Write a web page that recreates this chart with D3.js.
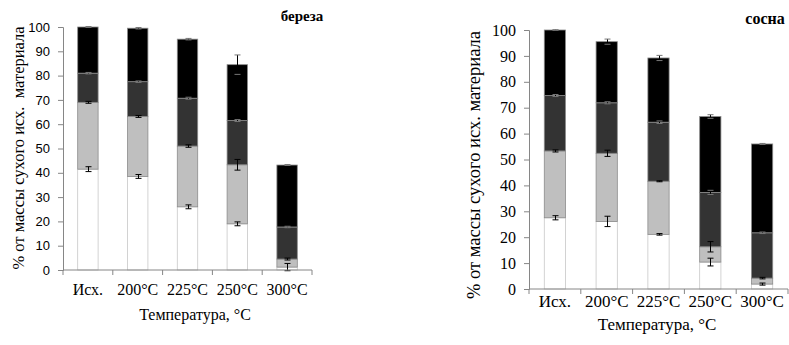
<!DOCTYPE html>
<html>
<head>
<meta charset="utf-8">
<script src="https://cdn.jsdelivr.net/npm/d3@7"></script>
<style>
  body { margin: 0; background: #fff; }
  svg { display: block; }
</style>
</head>
<body>
<div id="chart"></div>
<script>
const categories = ["Исх.", "200°C", "225°C", "250°C", "300°C"];
const seriesColors = ["#ffffff", "#bfbfbf", "#333333", "#000000"];
const serif = "'Liberation Serif', 'Times New Roman', Times, serif";

// береза: segment heights, bottom to top
const birchWhite = [41.5, 38.5, 26, 19, 1.2];
const birchLight = [27.5, 24.7, 25, 24.3, 3.3];
const birchDark = [12, 14.3, 19.7, 18.2, 13.2];
const birchBlack = [19, 22, 24.3, 23, 25.5];
const birchErr = [
  [1, 0.8, 0.8, 0.8, 1.5],
  [0.4, 0.4, 0.5, 2.2, 0.4],
  [0.3, 0.3, 0.4, 0.4, 0.3],
  [0.2, 0.3, 0.3, 4, 0.2]
];

// сосна
const pineWhite = [27.5, 26.1, 21.1, 10.4, 1.9];
const pineLight = [25.8, 26.3, 20.5, 5.9, 2.3];
const pineDark = [21.4, 19.5, 22.8, 21, 17.5];
const pineBlack = [25.3, 23.6, 24.8, 29.3, 34.3];
const pineErr = [
  [0.8, 2, 0.3, 1.5, 0.4],
  [0.4, 1.2, 0.2, 2, 0.3],
  [0.4, 0.4, 0.5, 0.8, 0.3],
  [0.1, 1, 1, 0.7, 0.2]
];

const yTicks = [0, 10, 20, 30, 40, 50, 60, 70, 80, 90, 100];

const svg = d3.select("#chart").append("svg")
    .attr("width", 789)
    .attr("height", 345);

function panel(o) {
  const x = d3.scaleBand().domain(categories).range([o.left, o.right]);
  const y = d3.scaleLinear().domain([0, 100]).range([o.bottom, o.top]);
  const g = svg.append("g");

  // stack segments
  const rows = categories.map((c, i) => {
    const r = {cat: c};
    o.series.forEach((s, k) => r["s" + k] = s[i]);
    return r;
  });
  const stack = d3.stack().keys(o.series.map((s, k) => "s" + k))(rows);
  const bw = x.bandwidth() * 0.41;

  stack.forEach((layer, k) => {
    g.append("g").selectAll("rect")
      .data(layer)
      .enter().append("rect")
        .attr("x", d => x(d.data.cat) + (x.bandwidth() - bw) / 2)
        .attr("y", d => y(d[1]))
        .attr("width", bw)
        .attr("height", d => y(d[0]) - y(d[1]))
        .attr("fill", seriesColors[k])
        .attr("stroke", k == 0 ? "#c8c8c8" : "#8c8c8c")
        .attr("stroke-width", 0.8);
  });

  // error bars
  stack.forEach((layer, k) => {
    const eg = g.append("g").attr("stroke-width", 1);
    layer.forEach((d, i) => {
      const cx = Math.round(x(d.data.cat) + x.bandwidth() / 2) + 0.5;
      const e = o.err[k][i];
      const y1 = y(d[1] - e), y2 = y(d[1] + e);
      eg.append("line").attr("x1", cx).attr("x2", cx).attr("y1", y1).attr("y2", y2)
        .attr("stroke", "#000");
      [y1, y2].forEach(yy => {
        eg.append("line").attr("x1", cx - 3).attr("x2", cx + 3).attr("y1", yy).attr("y2", yy)
          .attr("stroke", k >= 2 ? "#777" : "#000");
      });
    });
  });

  // y axis
  const ya = g.append("g")
      .attr("transform", "translate(" + o.left + ",0)")
      .call(d3.axisLeft(y).tickValues(yTicks).tickSize(5).tickPadding(o.yPad));
  ya.attr("font-family", o.tickFont).attr("font-size", o.tickSize);
  ya.selectAll("path, line").attr("stroke", "#868686");
  ya.selectAll("text").attr("fill", "#000");

  // x axis: ticks at band boundaries
  const xa = g.append("g").attr("transform", "translate(0," + o.bottom + ")");
  xa.append("line").attr("x1", o.left).attr("x2", o.right)
      .attr("stroke", "#868686");
  xa.selectAll(".tk")
    .data(categories.concat([null]))
    .enter().append("line")
      .attr("x1", (d, i) => i < categories.length ? x(d) : o.right)
      .attr("x2", (d, i) => i < categories.length ? x(d) : o.right)
      .attr("y1", 0).attr("y2", 5)
      .attr("stroke", "#868686");
  xa.selectAll(".lbl")
    .data(categories)
    .enter().append("text")
      .attr("font-family", serif)
      .attr("font-size", o.xLabelSize)
      .attr("x", d => x(d) + x.bandwidth() / 2)
      .attr("y", o.xLabelDy)
      .attr("text-anchor", "middle")
      .text(d => d);

  // axis titles
  g.append("text")
      .attr("font-family", serif)
      .attr("font-size", o.xLabelSize)
      .attr("x", o.xTitleX)
      .attr("y", o.bottom + o.xTitleDy)
      .attr("text-anchor", "middle")
      .text("Температура, °C");

  g.append("text")
      .attr("font-family", serif)
      .attr("font-size", o.yTitleSize)
      .attr("transform", "translate(" + o.yTitleX + "," + o.yTitleY + ") rotate(-90)")
      .attr("text-anchor", "middle")
      .style("white-space", "pre")
      .text(o.yTitle);

  g.append("text")
      .attr("font-family", serif)
      .attr("font-size", o.titleSize)
      .attr("font-weight", "bold")
      .attr("x", o.titleX)
      .attr("y", o.titleY)
      .attr("text-anchor", "middle")
      .text(o.title);
}

panel({
  left: 63, right: 312, top: 27, bottom: 270,
  series: [birchWhite, birchLight, birchDark, birchBlack],
  err: birchErr,
  tickFont: "'Liberation Sans', Arial, sans-serif", tickSize: 13, yPad: 8,
  xLabelSize: 16, xLabelDy: 25, xTitleX: 195, xTitleDy: 50,
  yTitle: "% от массы сухого исх.  материала", yTitleX: 24, yTitleY: 148, yTitleSize: 16.5,
  title: "береза", titleX: 302, titleY: 21, titleSize: 15
});

panel({
  left: 529, right: 788, top: 30, bottom: 289,
  series: [pineWhite, pineLight, pineDark, pineBlack],
  err: pineErr,
  tickFont: serif, tickSize: 16, yPad: 8,
  xLabelSize: 17, xLabelDy: 18, xTitleX: 657, xTitleDy: 41,
  yTitle: "% от массы сухого исх. материала", yTitleX: 480, yTitleY: 165, yTitleSize: 18.5,
  title: "сосна", titleX: 765, titleY: 24, titleSize: 16
});
</script>
</body>
</html>
